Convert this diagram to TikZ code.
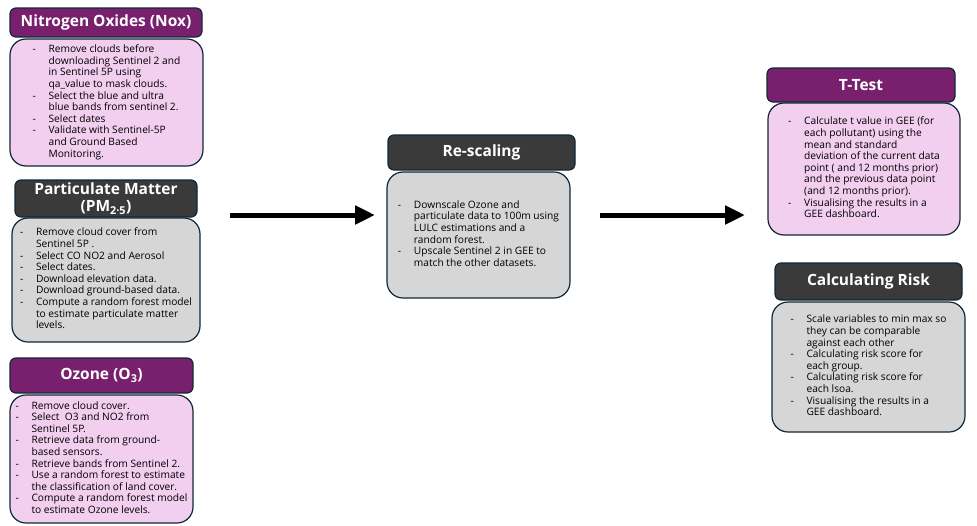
\documentclass[tikz,border=0pt]{standalone}
\usepackage{fontspec}
\setmainfont{Open Sans}
\usetikzlibrary{arrows.meta}
\definecolor{HeadPurple}{RGB}{120,32,110}
\definecolor{BodyPink}{RGB}{242,206,239}
\definecolor{HeadDark}{RGB}{58,58,58}
\definecolor{BodyGrey}{RGB}{214,214,214}
\definecolor{EdgeNavy}{RGB}{16,40,55}

\newcommand{\steplist}[1]{\begin{tabular}{@{}p{16pt}@{}l@{}}#1\end{tabular}}

\begin{document}
\begin{tikzpicture}[x=1pt, y=-1pt,
  hdr/.style={draw=EdgeNavy, line width=1.2pt, rounded corners=6pt, text=white, align=center,
    font=\fontsize{15.5}{16.5}\selectfont\bfseries, inner sep=0pt},
  stepbody/.style={draw=EdgeNavy, line width=1.2pt, rounded corners=16pt, text=black,
    font=\fontsize{10.2}{11.6}\selectfont, inner sep=0pt},
  flow/.style={line width=5pt, -{Triangle[length=20pt,width=18pt]}}]
\useasboundingbox (0,0) rectangle (977,525);

% left column
\node[hdr, fill=HeadPurple, minimum width=192pt, minimum height=29pt] (noxh) at (106,22.5) {Nitrogen Oxides (Nox)};
\node[stepbody, fill=BodyPink, minimum width=193pt, minimum height=127pt] (noxb) at (106.5,102.5) {\steplist{
 - & Remove clouds before\\ & downloading Sentinel 2 and\\ & in Sentinel 5P using\\ & qa\_value to mask clouds.\\
 - & Select the blue and ultra\\ & blue bands from sentinel 2.\\
 - & Select dates\\
 - & Validate with Sentinel-5P\\ & and Ground Based\\ & Monitoring.}};

\node[hdr, fill=HeadDark, minimum width=182pt, minimum height=37pt] (pmh) at (106,198.5) {Particulate Matter\\(PM\textsubscript{2·5})};
\node[stepbody, fill=BodyGrey, minimum width=188pt, minimum height=124pt] (pmb) at (106,280) {\steplist{
 - & Remove cloud cover from\\ & Sentinel 5P .\\
 - & Select CO NO2 and Aerosol\\
 - & Select dates.\\
 - & Download elevation data.\\
 - & Download ground-based data.\\
 - & Compute a random forest model\\ & to estimate particulate matter\\ & levels.}};

\node[hdr, fill=HeadPurple, minimum width=183pt, minimum height=35pt] (ozh) at (101.5,375.5) {Ozone (O\textsubscript{3})};
\node[stepbody, fill=BodyPink, minimum width=183pt, minimum height=128pt] (ozb) at (101.5,459) {\steplist{
 - & Remove cloud cover.\\
 - & Select \ O3 and NO2 from\\ & Sentinel 5P.\\
 - & Retrieve data from ground-\\ & based sensors.\\
 - & Retrieve bands from Sentinel 2.\\
 - & Use a random forest to estimate\\ & the classification of land cover.\\
 - & Compute a random forest model\\ & to estimate Ozone levels.}};

% middle column
\node[hdr, fill=HeadDark, minimum width=187pt, minimum height=35pt] (resh) at (481.5,152.5) {Re-scaling};
\node[stepbody, fill=BodyGrey, minimum width=183pt, minimum height=126pt] (resb) at (478.5,235) {\steplist{
 - & Downscale Ozone and\\ & particulate data to 100m using\\ & LULC estimations and a\\ & random forest.\\
 - & Upscale Sentinel 2 in GEE to\\ & match the other datasets.}};

% right column
\node[hdr, fill=HeadPurple, minimum width=188pt, minimum height=34pt] (tth) at (861,85) {T-Test};
\node[stepbody, fill=BodyPink, minimum width=192pt, minimum height=132pt] (ttb) at (864,169) {\steplist{
 - & Calculate t value in GEE (for\\ & each pollutant) using the\\ & mean and standard\\ & deviation of the current data\\ & point ( and 12 months prior)\\ & and the previous data point\\ & (and 12 months prior).\\
 - & Visualising the results in a\\ & GEE dashboard.}};

\node[hdr, fill=HeadDark, minimum width=187pt, minimum height=37pt] (crh) at (868.5,281.5) {Calculating Risk};
\node[stepbody, fill=BodyGrey, minimum width=193pt, minimum height=130pt] (crb) at (868.5,367) {\steplist{
 - & Scale variables to min max so\\ & they can be comparable\\ & against each other\\
 - & Calculating risk score for\\ & each group.\\
 - & Calculating risk score for\\ & each lsoa.\\
 - & Visualising the results in a\\ & GEE dashboard.}};

% arrows between the stages
\coordinate (leftout) at (230,215);
\coordinate (midin) at (375,215);
\coordinate (midout) at (600,215);
\coordinate (rightin) at (745,215);
\draw[flow] (leftout) -- (midin);
\draw[flow] (midout) -- (rightin);

\end{tikzpicture}
\end{document}
